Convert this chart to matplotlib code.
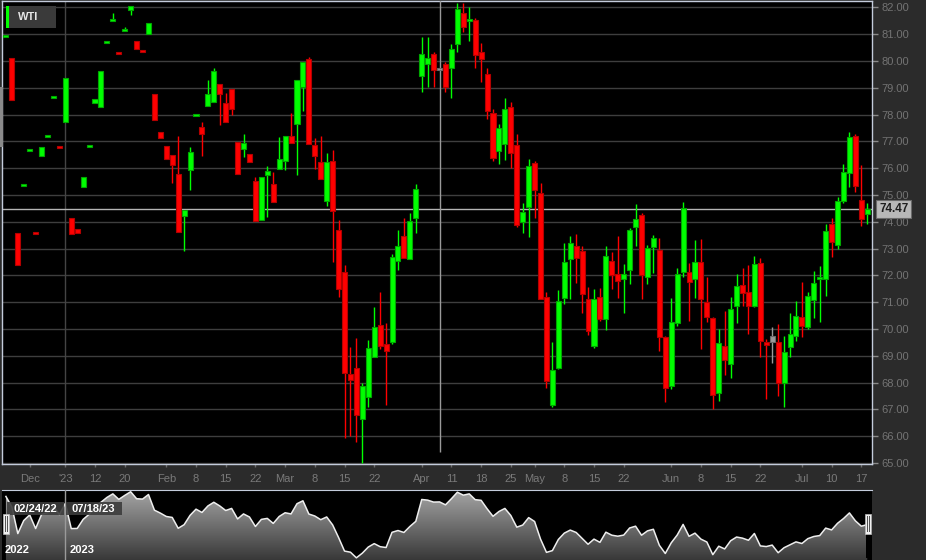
import numpy as np
import matplotlib
matplotlib.use("Agg")
import matplotlib.pyplot as plt
from matplotlib.patches import Rectangle, Polygon
from matplotlib.colors import LinearSegmentedColormap

plt.rcParams['font.family'] = ['Liberation Sans', 'DejaVu Sans']

# WTI daily candles, slot index = trading day on the chart
opens = [80.90, 80.10, 73.58, 75.34, 76.64, 73.61, 76.45, 77.17, 78.62, 76.83,
         77.72, 74.14, 73.73, 75.30, 76.79, 78.43, 78.28, 80.67, 81.50, 80.33,
         81.10, 81.90, 80.74, 80.40, 81.00, 78.76, 77.34, 76.82, 76.49, 75.78,
         74.20, 75.93, 77.97, 77.53, 78.32, 78.47, 79.13, 78.43, 78.95, 76.97,
         76.70, 76.52, 75.52, 74.06, 75.75, 75.40, 75.97, 76.27, 77.20, 77.65,
         79.03, 80.07, 76.86, 76.23, 74.77, 76.27, 73.68, 72.13, 68.32, 68.55,
         66.65, 67.47, 68.96, 70.15, 69.44, 69.52, 72.54, 73.47, 72.61, 74.14,
         79.44, 79.88, 80.26, 79.70, 79.88, 79.74, 80.63, 81.79, 81.49, 81.53,
         80.33, 79.51, 78.05, 76.64, 76.90, 78.28, 76.86, 73.99, 74.55, 76.19,
         75.07, 71.19, 67.16, 68.55, 71.16, 72.60, 73.09, 72.91, 71.12, 69.37,
         71.19, 70.37, 72.54, 72.05, 71.86, 72.20, 73.80, 74.25, 71.94, 73.06,
         72.94, 69.70, 67.88, 70.22, 72.13, 72.13, 71.87, 72.50, 71.00, 70.41,
         67.61, 69.37, 68.70, 70.85, 71.64, 71.38, 70.85, 72.46, 69.52, 69.52,
         69.52, 67.98, 69.33, 69.74, 70.45, 70.07, 71.08, 71.86, 71.86, 73.92,
         73.13, 74.77, 75.82, 77.20, 74.81, 74.29]
closes = [80.96, 78.55, 72.40, 75.40, 76.70, 73.56, 76.80, 77.23, 78.68, 76.78,
          79.36, 73.55, 73.58, 75.67, 76.85, 78.58, 79.62, 80.73, 81.56, 80.28,
          81.20, 82.05, 80.44, 80.35, 81.41, 77.80, 77.12, 76.34, 76.12, 73.62,
          74.45, 76.60, 78.03, 77.27, 78.77, 79.62, 78.77, 77.72, 78.20, 75.78,
          76.93, 76.22, 74.03, 75.67, 75.90, 74.74, 76.34, 77.20, 76.93, 79.29,
          79.96, 76.90, 76.45, 75.60, 76.23, 74.40, 71.49, 68.36, 68.10, 66.80,
          67.88, 69.29, 70.08, 69.37, 69.18, 72.69, 73.10, 72.65, 74.03, 75.22,
          80.26, 80.11, 79.66, 79.70, 79.03, 80.44, 81.94, 81.26, 81.56, 80.22,
          80.07, 78.13, 76.38, 77.49, 78.20, 76.56, 73.88, 74.36, 76.08, 75.18,
          71.12, 68.06, 68.47, 71.04, 72.50, 73.20, 72.65, 71.30, 69.93, 71.12,
          70.37, 72.72, 72.02, 71.79, 72.05, 73.69, 74.10, 72.02, 73.02, 73.39,
          69.70, 67.80, 70.26, 72.05, 74.51, 71.76, 72.50, 71.12, 70.45, 67.53,
          69.48, 68.85, 70.74, 71.60, 71.34, 70.85, 72.42, 69.55, 69.40, 69.74,
          67.98, 69.14, 69.82, 70.48, 70.11, 71.23, 71.72, 71.94, 73.66, 73.24,
          74.77, 75.86, 77.16, 75.34, 74.10, 74.47]
highs = [80.96, 80.10, 73.58, 75.40, 76.70, 73.61, 76.80, 77.23, 78.68, 76.83,
         79.36, 74.14, 73.73, 75.67, 76.85, 78.58, 79.62, 80.73, 81.78, 80.33,
         81.25, 82.05, 80.74, 80.40, 81.41, 78.76, 77.34, 76.82, 76.49, 77.20,
         74.45, 76.80, 78.03, 77.72, 79.30, 79.73, 79.13, 78.80, 78.95, 76.97,
         77.27, 76.52, 75.67, 75.67, 76.08, 75.86, 77.16, 77.20, 78.06, 79.29,
         79.96, 80.15, 77.12, 77.20, 76.56, 76.68, 74.07, 72.39, 69.33, 69.66,
         67.98, 69.59, 70.82, 71.38, 70.22, 72.79, 73.69, 74.14, 74.32, 75.41,
         80.89, 80.89, 80.33, 82.40, 79.96, 80.63, 82.16, 82.16, 82.01, 81.60,
         80.67, 79.74, 78.20, 77.64, 78.61, 78.46, 77.27, 74.70, 76.34, 76.25,
         75.45, 71.38, 69.52, 71.45, 73.20, 73.47, 73.54, 73.09, 71.57, 71.49,
         71.53, 73.09, 72.87, 73.47, 72.42, 73.75, 74.66, 74.32, 73.13, 73.50,
         73.39, 69.75, 71.16, 72.28, 74.73, 72.46, 73.32, 73.35, 71.94, 70.45,
         70.00, 70.67, 71.19, 72.05, 72.28, 72.39, 72.72, 72.65, 69.63, 70.08,
         70.19, 69.74, 70.60, 71.04, 71.75, 71.38, 72.16, 72.35, 73.92, 74.14,
         74.92, 76.15, 77.34, 77.27, 76.12, 74.70]
lows = [80.90, 78.55, 72.40, 75.34, 76.64, 73.56, 76.45, 77.17, 78.62, 76.78,
        77.72, 73.55, 73.58, 75.30, 76.79, 78.43, 78.28, 80.67, 81.50, 80.28,
        81.10, 81.70, 80.44, 80.35, 81.00, 77.80, 77.12, 76.34, 75.45, 73.62,
        72.90, 75.20, 77.97, 76.45, 78.32, 78.47, 77.60, 77.72, 77.98, 75.78,
        76.40, 76.22, 74.03, 74.06, 74.18, 74.74, 75.97, 75.93, 76.93, 75.75,
        78.13, 76.90, 75.97, 75.60, 74.58, 72.50, 71.20, 65.93, 66.00, 65.78,
        64.98, 67.09, 68.96, 69.25, 67.16, 69.44, 72.20, 72.65, 72.61, 73.58,
        78.84, 79.03, 79.03, 65.40, 78.84, 78.61, 80.33, 81.08, 80.74, 79.74,
        79.21, 77.83, 76.27, 76.15, 76.30, 76.00, 73.80, 73.58, 73.43, 74.14,
        71.10, 67.80, 67.10, 68.50, 70.93, 71.12, 71.72, 70.60, 69.78, 69.30,
        70.30, 69.97, 71.49, 71.16, 70.60, 71.68, 73.09, 71.12, 71.68, 72.09,
        69.18, 67.27, 67.77, 70.10, 71.94, 70.30, 71.16, 69.25, 70.26, 67.01,
        67.31, 68.28, 68.17, 70.22, 70.86, 69.82, 70.80, 68.96, 67.39, 68.74,
        67.49, 67.09, 68.96, 69.55, 69.70, 70.00, 70.41, 70.26, 71.23, 72.69,
        72.98, 74.70, 75.30, 75.11, 73.84, 73.92]
flat_days = [73, 129]
days = list(range(len(closes)))

tick_days = [4, 10, 15, 20, 27, 32, 37, 42, 47, 52, 57, 62, 70, 75, 80, 85,
             89, 94, 99, 104, 112, 117, 122, 127, 134, 139, 144]
tick_labels = ['Dec', "'23", '12', '20', 'Feb', '8', '15', '22', 'Mar', '8', '15', '22',
               'Apr', '11', '18', '25', 'May', '8', '15', '22', 'Jun', '8', '15', '22',
               'Jul', '10', '17']
year_day = 10
last_price = 74.47

W, H = 926, 560
fig = plt.figure(figsize=(W / 100, H / 100), dpi=100, facecolor='#2b2b2b')

def fx(x):
    return x / W

def fy(y):
    return 1 - y / H

frame_col = '#c4ccdc'
ax = fig.add_axes([fx(2), fy(464), fx(872) - fx(2), fy(1) - fy(464)])
ax.set_facecolor('black')
ax.set_xlim(-0.66, 145.8)
ax.set_ylim(64.96, 82.235)

# candles
o = np.array(opens); c = np.array(closes); h = np.array(highs); l = np.array(lows)
x = np.array(days)
up_face, up_edge = '#00ff00', '#00a800'
dn_face, dn_edge = '#ff0000', '#b40000'
fl_face, fl_edge = '#9a9a9a', '#6a6a6a'
faces, edges = [], []
for i in days:
    if i in flat_days:
        faces.append(fl_face); edges.append(fl_edge)
    elif c[i] >= o[i]:
        faces.append(up_face); edges.append(up_edge)
    else:
        faces.append(dn_face); edges.append(dn_edge)

min_h = 0.075
bot = np.minimum(o, c)
hgt = np.abs(c - o)
small = hgt < min_h
mid = (o + c) / 2
bot = np.where(small, mid - min_h / 2, bot)
hgt = np.where(small, min_h, hgt)

ax.vlines(x, l, h, colors=faces, linewidth=1.0, zorder=3)
ax.bar(x, hgt, bottom=bot, width=0.85, color=faces, edgecolor=edges,
       linewidth=0.8, zorder=4)

ax.axvline(year_day - 0.05, color='#444444', lw=1, zorder=1)
ax.axhline(last_price, color='#b4b4b4', lw=1, zorder=2)

ax.set_yticks(np.arange(65, 83, 1))
ax.set_yticklabels([f"{v:.2f}" for v in np.arange(65, 83, 1)])
ax.yaxis.tick_right()
ax.grid(axis='y', color='#3e3e3e', lw=1)
ax.set_axisbelow(True)
ax.tick_params(axis='y', colors='#8a8a8a', labelcolor='#737373', length=4, width=1,
               pad=2.5, labelsize=8)
ax.set_xticks(tick_days)
ax.set_xticklabels(tick_labels)
ax.tick_params(axis='x', colors='#6a6a6a', labelcolor='#7a7a7a', length=2.5, width=1,
               pad=5, labelsize=8)
for s in ax.spines.values():
    s.set_color(frame_col)
    s.set_linewidth(1)

# price tag
ax.text(1.0 + 7 / 870, last_price, f"{last_price:.2f}", transform=ax.get_yaxis_transform(),
        ha='left', va='center', fontsize=8.5, fontweight='bold', color='#1e1e1e',
        bbox=dict(boxstyle='square,pad=0.25', facecolor='#b8b8b8', edgecolor='#6a6a6a', lw=0.8),
        zorder=10, clip_on=False)

# legend
fig.add_artist(Rectangle((fx(9), fy(28)), fx(56) - fx(9), fy(6) - fy(28),
                         transform=fig.transFigure, facecolor='#3a3a3a', edgecolor='none', zorder=5))
fig.add_artist(Rectangle((fx(6), fy(28)), fx(9) - fx(6), fy(6) - fy(28),
                         transform=fig.transFigure, facecolor='#00ff00', edgecolor='none', zorder=5))
fig.text(fx(18), fy(17.5), 'WTI', color='#e6e6e6', fontsize=8, fontweight='bold',
         ha='left', va='center', zorder=6)
fig.add_artist(Rectangle((fx(0), fy(147)), fx(3), fy(87) - fy(147),
                         transform=fig.transFigure, facecolor='#8a8a8a', edgecolor='none', zorder=5))

# navigator
nav = fig.add_axes([fx(2), 0, fx(872) - fx(2), fy(490)])
nav.set_facecolor('black')
nav.set_xlim(-0.66, 145.8)
nb, nt = 66.3, 82.45
nav.set_ylim(nb, nt)
nav.set_xticks([]); nav.set_yticks([])
for s in nav.spines.values():
    s.set_visible(False)
nav.spines['top'].set_visible(True)
nav.spines['top'].set_color(frame_col)

verts = [(x[0], nb)] + list(zip(x, c)) + [(x[-1], nb)]
poly = Polygon(verts, closed=True, facecolor='none', edgecolor='none')
nav.add_patch(poly)
cmap = LinearSegmentedColormap.from_list('navgrad', ['#383838', '#a6a6a6'])
grad = np.linspace(0, 1, 256)[:, None]
im = nav.imshow(grad, cmap=cmap, aspect='auto', origin='lower',
                extent=[-0.66, 145.8, nb, nt], zorder=1)
im.set_clip_path(poly)
nav.plot(x, c, color='#eeeeee', lw=1.1, zorder=3)
nav.axvline(year_day - 0.05, color='#9a9a9a', lw=1, zorder=4)

for lab, x0, x1 in [('02/24/22', 7, 64), ('07/18/23', 65.5, 122)]:
    fig.add_artist(Rectangle((fx(x0), fy(515)), fx(x1) - fx(x0), fy(502) - fy(515),
                             transform=fig.transFigure, facecolor='#3c3c3c', alpha=0.9,
                             edgecolor='none', zorder=6))
    fig.text(fx(x0 + 6), fy(508.5), lab, color='white', fontsize=8, fontweight='bold',
             ha='left', va='center', zorder=7)
fig.text(fx(5), fy(550), '2022', color='white', fontsize=8, fontweight='bold',
         ha='left', va='center', zorder=7)
fig.text(fx(70), fy(550), '2023', color='white', fontsize=8, fontweight='bold',
         ha='left', va='center', zorder=7)

# navigator handles
fig.add_artist(Rectangle((fx(866), fy(558)), fx(4), fy(534) - fy(558),
                         transform=fig.transFigure, facecolor='black', edgecolor='none', zorder=6))
for hx in (3, 865):
    fig.add_artist(Rectangle((fx(hx), fy(534)), fx(6), fy(514) - fy(534),
                             transform=fig.transFigure, facecolor='#f0f0f0', edgecolor='#bbbbbb',
                             lw=0.5, zorder=7))
    for k in (1.7, 3.7):
        fig.add_artist(Rectangle((fx(hx + k), fy(532)), fx(0.8), fy(516) - fy(532),
                                 transform=fig.transFigure, facecolor='#555555',
                                 edgecolor='none', zorder=8))

fig.savefig('out.png', dpi=100, facecolor=fig.get_facecolor())
